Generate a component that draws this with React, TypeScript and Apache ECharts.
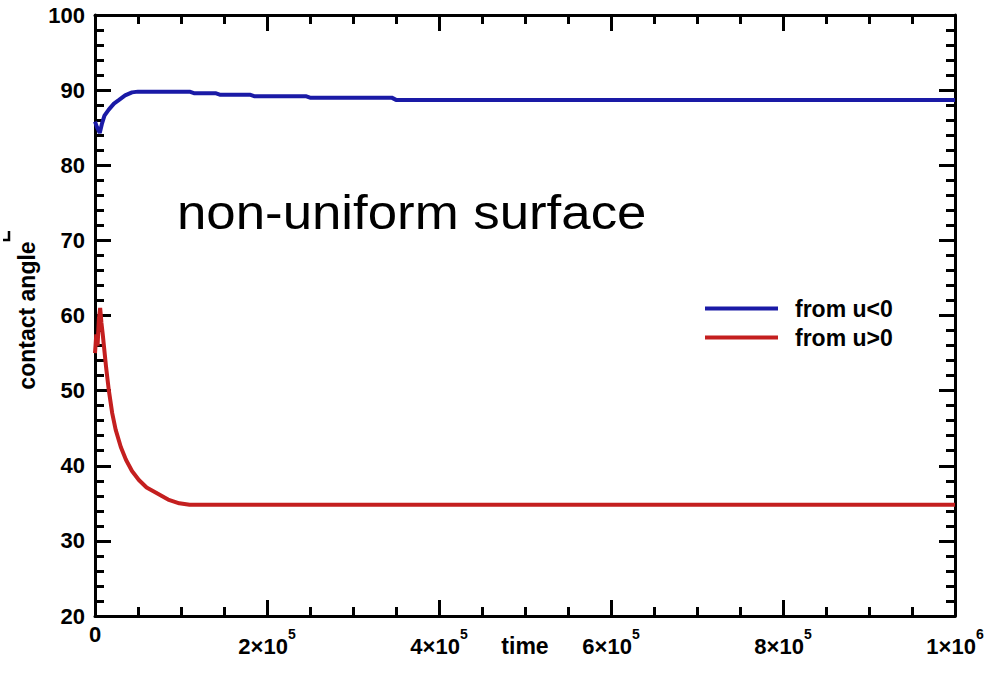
import React, { useEffect, useRef } from "react";
import * as echarts from "echarts";

// Contact angle relaxation on a non-uniform surface
const blueTime = [0, 2500, 5500, 8000, 11000, 16000, 22000, 28000, 35000, 43000, 50000, 110000, 115000, 140000, 145000, 180000, 185000, 245000, 250000, 345000, 350000, 1000000];
const blueAngle = [85.8, 85.0, 84.3, 85.5, 86.6, 87.4, 88.2, 88.7, 89.3, 89.7, 89.8, 89.8, 89.6, 89.6, 89.4, 89.4, 89.2, 89.2, 89.0, 89.0, 88.7, 88.7];

const redTime = [0, 1500, 3000, 4500, 6000, 7500, 9000, 10500, 13000, 16000, 20000, 24000, 30000, 36000, 43000, 51000, 60000, 71000, 85000, 98000, 110000, 1000000];
const redAngle = [55.0, 57.5, 56.0, 59.5, 61.0, 59.0, 57.5, 55.8, 53.0, 50.1, 47.0, 44.8, 42.5, 40.8, 39.3, 38.1, 37.1, 36.4, 35.5, 35.0, 34.8, 34.8];

const seriesNames = ["from u<0", "from u>0"];
const seriesColors = ["#1a1aa6", "#c41f1f"];

// x tick labels written as mantissa × 10^exponent
const xTickMantissa = ["0", "2", "4", "6", "8", "1"];
const xTickExponent = ["", "5", "5", "5", "5", "6"];

const annotation = "non-uniform surface";

const FONT = "'Liberation Sans', Arial, Helvetica, sans-serif";

function zip(xs: number[], ys: number[]) {
  return xs.map((x, i) => [x, ys[i]]);
}

export default function App() {
  const ref = useRef<HTMLDivElement>(null);

  useEffect(() => {
    if (!ref.current) return;
    const chart = echarts.init(ref.current, undefined, { renderer: "svg" });

    const black = "#000";
    const tickCommon = {
      axisLine: { show: true, onZero: false, lineStyle: { color: black, width: 3 } },
      axisTick: { show: true, inside: true, length: 16, lineStyle: { color: black, width: 3 } },
      splitLine: { show: false },
    };

    const xCommon = {
      type: "value" as const,
      min: 0,
      max: 1000000,
      interval: 200000,
      ...tickCommon,
      minorTick: { show: true, splitNumber: 4, length: 9, lineStyle: { color: black, width: 3 } },
    };
    const yCommon = {
      type: "value" as const,
      min: 20,
      max: 100,
      interval: 10,
      ...tickCommon,
      minorTick: { show: true, splitNumber: 5, length: 9, lineStyle: { color: black, width: 3 } },
    };

    chart.setOption({
      animation: false,
      backgroundColor: "#ffffff",
      grid: { left: 95, right: 37, top: 15, bottom: 68, containLabel: false },
      legend: {
        orient: "vertical",
        left: 705,
        top: 297,
        padding: 0,
        itemWidth: 73,
        itemHeight: 4,
        itemGap: 6,
        icon: "rect",
        data: seriesNames,
        textStyle: {
          fontFamily: FONT,
          fontSize: 23,
          fontWeight: "bold",
          color: black,
          lineHeight: 20,
          padding: [0, 0, 0, 12],
        },
      },
      xAxis: [
        {
          ...xCommon,
          position: "bottom",
          name: "time",
          nameLocation: "middle",
          nameGap: 18,
          nameMoveOverlap: false,
          nameTextStyle: { fontFamily: FONT, fontSize: 23, fontWeight: "bold", color: black },
          axisLabel: {
            show: true,
            margin: 11,
            formatter: (v: number) => {
              const i = Math.round(v / 200000);
              if (!xTickExponent[i]) return `{z|${xTickMantissa[i]}}`;
              return `{b|${xTickMantissa[i]}×10}{s|${xTickExponent[i]}}`;
            },
            rich: {
              z: { fontFamily: FONT, fontSize: 22, fontWeight: "bold", color: black, lineHeight: 14 },
              b: { fontFamily: FONT, fontSize: 22, fontWeight: "bold", color: black, lineHeight: 20, verticalAlign: "bottom" },
              s: { fontFamily: FONT, fontSize: 14, fontWeight: "bold", color: black, verticalAlign: "top", padding: [0, 0, 16, 0] },
            },
          },
        },
        { ...xCommon, position: "top", axisLabel: { show: false } },
      ],
      yAxis: [
        {
          ...yCommon,
          position: "left",
          name: "contact angle",
          nameLocation: "middle",
          nameGap: 57,
          nameMoveOverlap: false,
          nameTextStyle: { fontFamily: FONT, fontSize: 23, fontWeight: "bold", color: black },
          axisLabel: {
            show: true,
            margin: 10,
            fontFamily: FONT,
            fontSize: 22,
            fontWeight: "bold",
            color: black,
            padding: [4, 0, 0, 0],
          },
        },
        { ...yCommon, position: "right", axisLabel: { show: false } },
      ],
      series: [
        {
          name: seriesNames[0],
          type: "line",
          xAxisIndex: 0,
          yAxisIndex: 0,
          data: zip(blueTime, blueAngle),
          showSymbol: false,
          symbol: "none",
          lineStyle: { color: seriesColors[0], width: 4 },
          itemStyle: { color: seriesColors[0] },
        },
        {
          name: seriesNames[1],
          type: "line",
          xAxisIndex: 0,
          yAxisIndex: 0,
          data: zip(redTime, redAngle),
          showSymbol: false,
          symbol: "none",
          lineStyle: { color: seriesColors[1], width: 4 },
          itemStyle: { color: seriesColors[1] },
        },
      ],
      graphic: [
        {
          type: "text",
          x: 177,
          y: 212,
          scaleX: 1.1,
          style: {
            text: annotation,
            fontFamily: FONT,
            fontSize: 48,
            fill: black,
            verticalAlign: "middle",
            align: "left",
          },
        },
        {
          type: "polyline",
          shape: { points: [[9, 231], [9, 240], [3, 240]] },
          style: { stroke: black, lineWidth: 2.5, fill: "none" },
        },
      ],
    });

    return () => chart.dispose();
  }, []);

  return (
    <div
      ref={ref}
      style={{ position: "fixed", left: 0, top: 0, width: 992, height: 684, background: "#fff" }}
    />
  );
}
